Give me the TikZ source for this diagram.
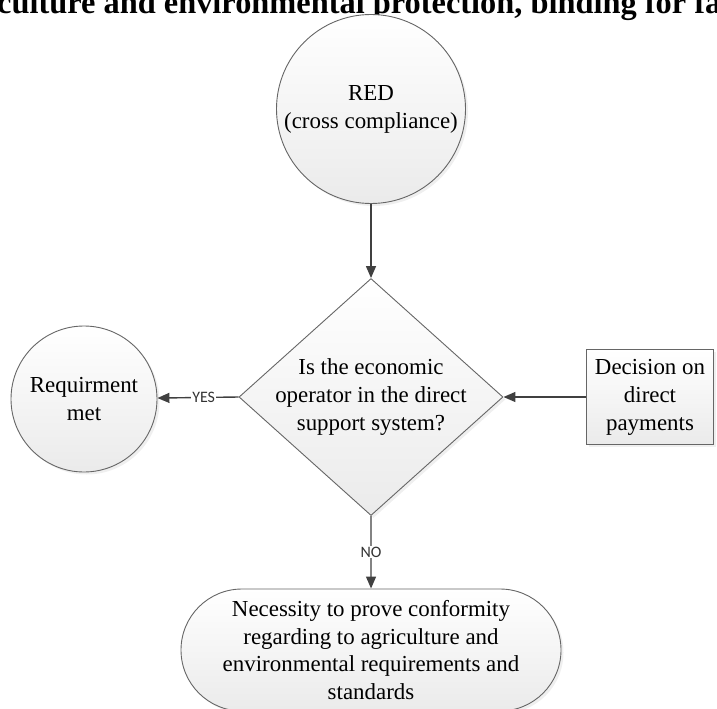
\documentclass[tikz,border=0pt]{standalone}
\usepackage{fontspec}
\setmainfont{Liberation Serif}
\newfontfamily\answerfont{Carlito}
\usetikzlibrary{arrows.meta, positioning, shapes.geometric, shapes.misc, shadows}

\tikzset{
  flowshape/.style={draw=black!60, line width=0.9bp, top color=white, bottom color=black!8,
    drop shadow={shadow xshift=2.5bp, shadow yshift=-2.5bp, fill=black!12},
    align=center, font=\fontsize{23}{28}\selectfont},
  flowarrow/.style={draw=black!75, line width=1.4bp, -{Triangle[length=12bp, width=10bp]}},
  answer/.style={fill=white, inner sep=1bp, text=black!80, font=\answerfont\fontsize{16}{16}\selectfont},
}

\begin{document}
\begin{tikzpicture}[x=1bp, y=-1bp]

\def \xmid{371}
\def \ydec{397}

\useasboundingbox (0,0) rectangle (717,709);
\clip (0,0) rectangle (717,709);

% cut title line at the top
\node[anchor=base west, inner sep=0pt, font=\bfseries\fontsize{32.5}{32.5}\selectfont] (title) at (-3,14)
  {culture and environmental protection, binding for fa};

% shapes from top to bottom
\node[flowshape, circle, minimum size=189bp, inner sep=0pt] (red) at (\xmid,109)
  {RED\\(cross compliance)};
\node[flowshape, diamond, minimum width=264bp, minimum height=237bp, inner sep=0pt] (dec) at (\xmid,\ydec) {};
\node[align=center, font=\fontsize{23}{28}\selectfont] (dectext) at (dec)
  {Is the economic\\operator in the direct\\support system?};
\node[flowshape, circle, minimum size=146bp, inner sep=0pt] (req) at (84,399)
  {Requirment\\met};
\node[flowshape, rectangle, minimum width=127bp, minimum height=95bp, inner sep=0pt] (pay) at (650,\ydec)
  {Decision on\\direct\\payments};
\node[flowshape, rounded rectangle, minimum width=380bp, minimum height=122bp, inner sep=0pt] (nec) at (\xmid,650)
  {Necessity to prove conformity\\regarding to agriculture and\\environmental requirements and\\standards};

% connectors
\draw[flowarrow] (red) -- (dec);
\draw[flowarrow] (dec.west) -- node[answer, pos=0.43] (yes) {YES} (req);
\draw[flowarrow] (pay) -- (dec.east);
\draw[flowarrow] (dec.south) -- node[answer, pos=0.5] (no) {NO} (nec);

\end{tikzpicture}
\end{document}
